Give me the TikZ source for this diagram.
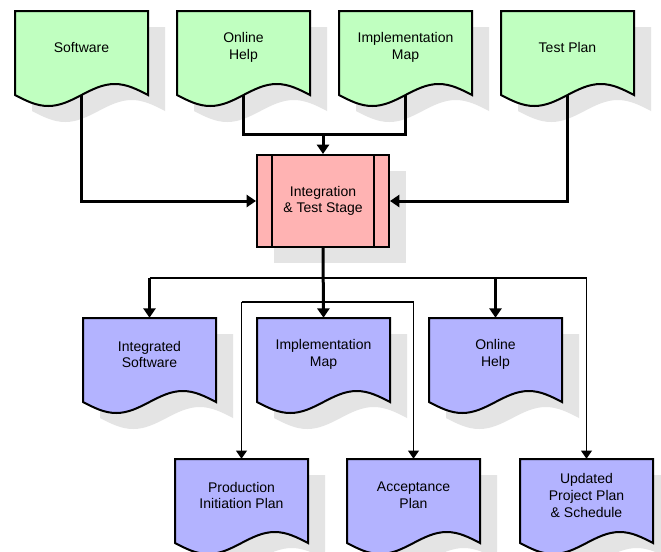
\documentclass[tikz,border=0pt]{standalone}
\usepackage{fontspec}
\setmainfont{Liberation Sans}
\usetikzlibrary{arrows.meta,shadows,calc}

\definecolor{docgreen}{HTML}{C0FFC0}
\definecolor{docblue}{HTML}{B3B3FF}
\definecolor{stagepink}{HTML}{FFB3B3}
\definecolor{shadowgray}{HTML}{E4E4E4}

\tikzset{
  docline/.style={draw=black, line width=1.5pt},
  docnode/.style={minimum width=99.75pt, minimum height=63pt, inner sep=0pt},
  doctext/.style={align=center, inner sep=0pt, font=\fontsize{10.5}{12.4}\selectfont},
  stagebox/.style={draw=black, line width=1.5pt, fill=stagepink,
    minimum width=99pt, minimum height=69pt, align=center,
    font=\fontsize{10.5}{12.4}\selectfont,
    general shadow={fill=shadowgray, shadow xshift=12.75pt, shadow yshift=-12pt}},
  thickline/.style={line width=2.25pt},
  thickarrow/.style={line width=2.25pt, -{Triangle[width=9pt,length=7pt]}},
  thinline/.style={line width=1pt},
  thinarrow/.style={line width=1pt, -{Triangle[width=8pt,length=6pt]}},
}

% sheet outline, from the top left corner
\newcommand{\docpath}{-- ++(133,0) -- ++(0,84) sin ++(-33.25,-11) cos ++(-33.25,11)
  sin ++(-33.25,11) cos ++(-33.25,-11) -- cycle}
% name, left, top, colour, text
\newcommand{\docsheet}[5]{%
  \fill[shadowgray] (#2+17,#3+16) \docpath;
  \filldraw[docline, fill=#4] (#2,#3) \docpath;
  \node[docnode] (#1) at (#2+66.5,#3+42) {};
  \node[doctext] (#1-t) at (#2+66.5,#3+36.5) {#5};
}

\begin{document}
\begin{tikzpicture}[x=0.75pt,y=-0.75pt]
\useasboundingbox (0,0) rectangle (661,551);
\fill[white] (0,0) rectangle (661,551);
\clip (0,0) rectangle (661,551);

% inputs
\docsheet{sw}{15}{11}{docgreen}{Software}
\docsheet{oh}{177}{11}{docgreen}{Online\\Help}
\docsheet{im}{339}{11}{docgreen}{Implementation\\Map}
\docsheet{tp}{501}{11}{docgreen}{Test Plan}

% stage
\node[stagebox] (its) at (323,201) {Integration\\\& Test Stage};
\draw[line width=1.1pt] ([xshift=12pt]its.north west) -- ([xshift=12pt]its.south west);
\draw[line width=1.1pt] ([xshift=-12pt]its.north east) -- ([xshift=-12pt]its.south east);

% outputs
\docsheet{isw}{83}{318}{docblue}{Integrated\\Software}
\docsheet{im2}{257}{318}{docblue}{Implementation\\Map}
\docsheet{oh2}{429}{318}{docblue}{Online\\Help}
\docsheet{pip}{175}{459}{docblue}{Production\\Initiation Plan}
\docsheet{acc}{347}{459}{docblue}{Acceptance\\Plan}
\docsheet{upd}{520}{459}{docblue}{Updated\\Project Plan\\\& Schedule}

% connectors in
\coordinate (topjoin) at ($(its.north)+(0,-20)$);
\draw[thickarrow] (sw.south) |- (its.west);
\draw[thickarrow] (tp.south) |- (its.east);
\draw[thickline] (oh.south) |- (topjoin) -| (im.south);
\draw[thickarrow] (topjoin) -- (its.north);

% connectors out
\coordinate (rowA) at (323,278);
\coordinate (rowB) at (323,302);
\draw[thinline] (isw.north |- rowA) -- (upd.north |- rowA);
\draw[thinline] (pip.north |- rowB) -- (acc.north |- rowB);
\draw[thickarrow] (its.south) -- (im2.north);
\draw[thickarrow] (isw.north |- rowA) -- (isw.north);
\draw[thickarrow] (oh2.north |- rowA) -- (oh2.north);
\draw[thinarrow] (upd.north |- rowA) -- (upd.north);
\draw[thinarrow] (pip.north |- rowB) -- (pip.north);
\draw[thinarrow] (acc.north |- rowB) -- (acc.north);
\end{tikzpicture}
\end{document}
